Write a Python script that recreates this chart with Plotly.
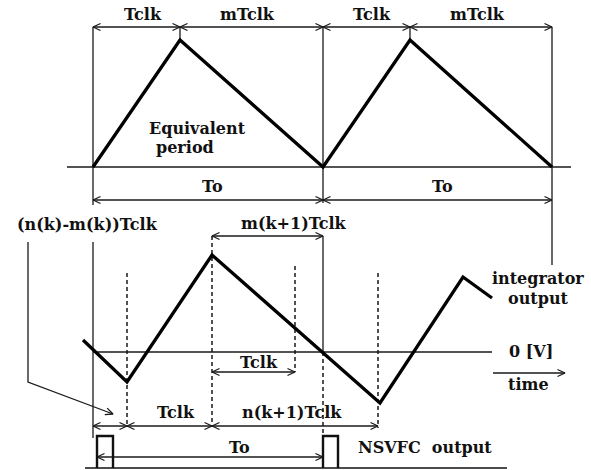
import math
import plotly.graph_objects as go

# ---------------- data (diagram coordinates, pixel-like units, y downwards) ----------------
# equivalent-period triangle wave (top)
top_wave_x = [93, 180, 323, 410, 552]
top_wave_y = [167, 40, 167, 40, 167]
top_base_x = [67, 571]
top_base_y = 167

# integrator output waveform (bottom)
int_wave_x = [83, 127, 212, 380, 463, 492]
int_wave_y = [340, 382, 255, 403, 277, 298]
zero_axis_x = [93, 492]
zero_axis_y = 352

# NSVFC output pulses
pulse_left = [97, 323]
pulse_right = [113, 338]
pulse_top = 436
pulse_base = 468
pulse_base_x = [85, 507]

# dimension lines: (x0, x1, y)
dims_top = [(93, 180, 27), (180, 323, 27), (323, 410, 27), (410, 552, 27),
            (93, 323, 200), (323, 552, 200)]
dims_low = [(212, 323, 236), (212, 295, 372), (93, 127, 426), (127, 212, 426),
            (212, 378, 426), (97, 323, 457)]

# solid extension lines: (x, y0, y1)
ext_lines = [(93, 27, 205), (180, 27, 40), (323, 27, 203), (410, 27, 40), (552, 27, 265),
             (93, 242, 438), (323, 236, 352)]
# dashed extension lines: (x, y0, y1)
dash_lines = [(127, 273, 427), (212, 236, 427), (295, 266, 372), (378, 273, 428), (323, 352, 436)]

# leader from (n(k)-m(k))Tclk label
leader_x = [28, 28, 113]
leader_y = [242, 382, 414]
# time arrow
time_x = [493, 565]
time_y = 373

# text labels: (text, x, y)
labels = [
    ("Tclk", 143, 14), ("mTclk", 247, 14), ("Tclk", 372, 14), ("mTclk", 477, 14),
    ("Equivalent", 197, 128), ("period", 185, 147),
    ("To", 212, 186), ("To", 442, 186),
    ("(n(k)-m(k))Tclk", 87, 224), ("m(k+1)Tclk", 294, 223),
    ("integrator", 538, 278), ("output", 538, 298),
    ("Tclk", 259, 362), ("0 [V]", 531, 351), ("time", 528, 384),
    ("Tclk", 176, 412), ("n(k+1)Tclk", 292, 412),
    ("To", 239, 447), ("NSVFC  output", 425, 447),
]

# ---------------- helpers ----------------
AL, AW = 7.5, 3.5  # arrowhead length / half width


def head(tx, ty, fx, fy):
    dx, dy = tx - fx, ty - fy
    n = math.hypot(dx, dy)
    ux, uy = dx / n, dy / n
    px, py = -uy, ux
    return ([tx - AL * ux + AW * px, tx, tx - AL * ux - AW * px, None],
            [ty - AL * uy + AW * py, ty, ty - AL * uy - AW * py, None])


thin_x, thin_y = [], []


def seg(xs, ys):
    thin_x.extend(list(xs) + [None])
    thin_y.extend(list(ys) + [None])


def add_head(tx, ty, fx, fy):
    hx, hy = head(tx, ty, fx, fy)
    thin_x.extend(hx)
    thin_y.extend(hy)


for x0, x1, y in dims_top + dims_low:
    seg([x0, x1], [y, y])
    add_head(x0, y, x1, y)
    add_head(x1, y, x0, y)

for x, y0, y1 in ext_lines:
    seg([x, x], [y0, y1])

seg(top_base_x, [top_base_y, top_base_y])
seg(zero_axis_x, [zero_axis_y, zero_axis_y])
seg(leader_x, leader_y)
add_head(leader_x[-1], leader_y[-1], leader_x[-2], leader_y[-2])
seg(time_x, [time_y, time_y])
add_head(time_x[1], time_y, time_x[0], time_y)

dash_x, dash_y = [], []
for x, y0, y1 in dash_lines:
    dash_x += [x, x, None]
    dash_y += [y0, y1, None]

pulse_x, pulse_y = [], []
for l, r in zip(pulse_left, pulse_right):
    pulse_x += [l, l, r, r, None]
    pulse_y += [pulse_base, pulse_top, pulse_top, pulse_base, None]

fig = go.Figure()
fig.add_trace(go.Scatter(x=thin_x, y=thin_y, mode="lines",
                         line=dict(color="#1a1a1a", width=1.3), hoverinfo="skip"))
fig.add_trace(go.Scatter(x=dash_x, y=dash_y, mode="lines",
                         line=dict(color="#1a1a1a", width=1.5, dash="4px,3px"), hoverinfo="skip"))
fig.add_trace(go.Scatter(x=pulse_base_x, y=[pulse_base, pulse_base], mode="lines",
                         line=dict(color="#111", width=1.7), hoverinfo="skip"))
fig.add_trace(go.Scatter(x=pulse_x, y=pulse_y, mode="lines",
                         line=dict(color="#111", width=2.4), hoverinfo="skip"))
fig.add_trace(go.Scatter(x=top_wave_x, y=top_wave_y, mode="lines",
                         line=dict(color="#000", width=3.3), hoverinfo="skip"))
fig.add_trace(go.Scatter(x=int_wave_x, y=int_wave_y, mode="lines",
                         line=dict(color="#000", width=3.3), hoverinfo="skip"))

for t, x, y in labels:
    fig.add_annotation(x=x, y=y, text=t, showarrow=False, xanchor="center", yanchor="middle",
                       font=dict(family="DejaVu Serif", size=16, color="#111", weight="bold"))

fig.update_layout(
    width=591, height=470, margin=dict(l=0, r=0, t=0, b=0),
    paper_bgcolor="white", plot_bgcolor="white", showlegend=False,
    xaxis=dict(range=[0, 591], visible=False, fixedrange=True),
    yaxis=dict(range=[470, 0], visible=False, fixedrange=True),
)
fig.write_html("out.html")
